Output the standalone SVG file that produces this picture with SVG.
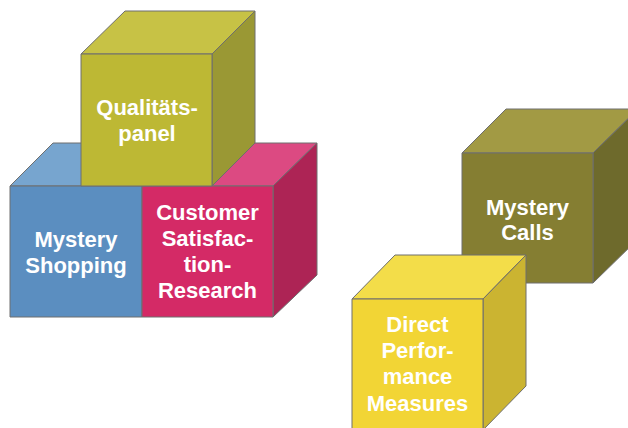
<svg xmlns="http://www.w3.org/2000/svg" width="628" height="428" viewBox="0 0 628 428">
<style>
.e{stroke:#6e6e6e;stroke-width:1;stroke-linejoin:round}
.t{font-family:"Liberation Sans",Arial,sans-serif;font-weight:bold;font-size:22px;fill:#ffffff;text-anchor:middle}
</style>
<rect width="628" height="428" fill="#ffffff"/>
<g id="mystery-shopping">
<polygon class="e" points="10,186 53,143 185,143 142,186" fill="#77a5cf"/>
<rect class="e" x="10" y="186" width="132" height="131" fill="#5b8ec0"/>
<text class="t" x="76" y="247">Mystery</text>
<text class="t" x="76" y="273">Shopping</text>
</g>
<g id="customer-satisfaction">
<polygon class="e" points="142,186 185,143 317,143 273,186" fill="#dc4a82"/>
<polygon class="e" points="273,186 317,143 317,275 273,317" fill="#ad2455"/>
<rect class="e" x="142" y="186" width="131" height="131" fill="#d42a66"/>
<text class="t" x="207.5" y="220">Customer</text>
<text class="t" x="207.5" y="246">Satisfac-</text>
<text class="t" x="207.5" y="272">tion-</text>
<text class="t" x="207.5" y="298">Research</text>
</g>
<g id="qualitaetspanel">
<polygon class="e" points="81,54 125,11 255,11 212,54" fill="#c7c245"/>
<polygon class="e" points="212,54 255,11 255,143 212,186" fill="#9a9834"/>
<rect class="e" x="81" y="54" width="131" height="132" fill="#bdb834"/>
<text class="t" x="147" y="115">Qualitäts-</text>
<text class="t" x="147" y="141">panel</text>
</g>
<g id="mystery-calls">
<polygon class="e" points="462,153 506,109 638,109 593,153" fill="#a29a44"/>
<polygon class="e" points="593,153 638,109 638,239 593,283" fill="#6e6a2c"/>
<rect class="e" x="462" y="153" width="131" height="130" fill="#857e32"/>
<text class="t" x="527.5" y="215">Mystery</text>
<text class="t" x="527.5" y="240">Calls</text>
</g>
<g id="direct-performance">
<polygon class="e" points="352,299 395,255 526,255 483,299" fill="#f3dd49"/>
<polygon class="e" points="483,299 526,255 526,386 483,430" fill="#cbb431"/>
<rect class="e" x="352" y="299" width="131" height="131" fill="#f2d535"/>
<text class="t" x="417.5" y="332">Direct</text>
<text class="t" x="417.5" y="358">Perfor-</text>
<text class="t" x="417.5" y="384">mance</text>
<text class="t" x="417.5" y="411">Measures</text>
</g>
<g id="connectors"/>
</svg>
